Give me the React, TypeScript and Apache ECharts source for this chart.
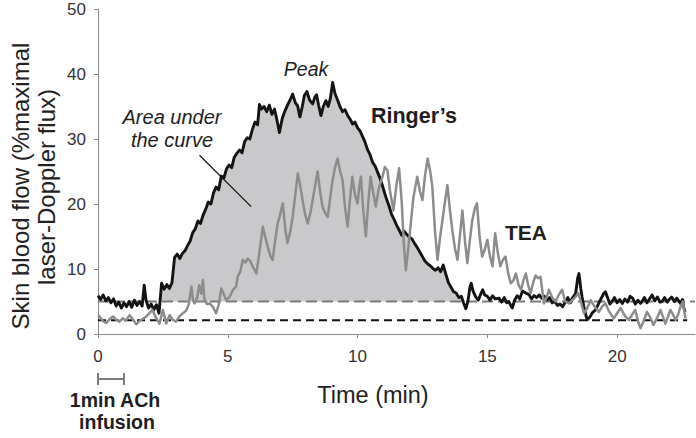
import { useEffect, useRef } from "react";
import * as echarts from "echarts";

const xTicks = [0, 5, 10, 15, 20];
const xMax = 23;
const yMax = 50;
const yInterval = 10;

// Ringer's (black) trace: [time (min), skin blood flow (%max)]
const ringer: [number, number][] = [
  [0, 5.9], [0.1, 5.3], [0.2, 6.0], [0.3, 5.1], [0.4, 5.6], [0.5, 4.8], [0.6, 5.4], [0.7, 4.3], [0.8, 4.9], [0.9, 4.0],
  [1.0, 4.8], [1.1, 4.2], [1.2, 5.0], [1.3, 4.1], [1.4, 5.2], [1.5, 4.4], [1.6, 5.0], [1.7, 4.3], [1.78, 7.5], [1.85, 5.2],
  [1.95, 4.0], [2.05, 4.6], [2.15, 3.7], [2.25, 4.5], [2.35, 3.2], [2.45, 7.8], [2.55, 6.9], [2.65, 7.6], [2.75, 7.0], [2.85, 7.9],
  [2.95, 11.8], [3.05, 12.3], [3.15, 11.6], [3.25, 12.4], [3.35, 12.8], [3.45, 13.6], [3.55, 14.3], [3.65, 15.6], [3.75, 16.2], [3.85, 17.4],
  [3.95, 17.0], [4.05, 18.3], [4.15, 19.2], [4.25, 20.3], [4.35, 20.0], [4.45, 21.7], [4.55, 22.6], [4.65, 22.2], [4.75, 24.3], [4.85, 24.0],
  [4.95, 25.4], [5.05, 26.0], [5.15, 25.6], [5.25, 27.2], [5.35, 27.8], [5.45, 28.3], [5.55, 27.9], [5.65, 29.6], [5.75, 30.2], [5.85, 30.0],
  [5.95, 31.5], [6.05, 32.6], [6.15, 32.2], [6.22, 35.3], [6.3, 34.6], [6.4, 35.0], [6.5, 34.2], [6.6, 35.2], [6.7, 33.8], [6.8, 34.6],
  [6.9, 32.8], [6.99, 31.0], [7.1, 33.2], [7.2, 34.3], [7.3, 35.2], [7.4, 36.0], [7.5, 36.9], [7.6, 35.6], [7.69, 35.1], [7.78, 33.4],
  [7.87, 35.0], [7.95, 36.7], [8.05, 37.3], [8.15, 36.0], [8.27, 35.4], [8.35, 36.4], [8.42, 36.8], [8.5, 35.2], [8.59, 33.6], [8.68, 35.0],
  [8.78, 35.9], [8.87, 35.0], [8.95, 36.2], [9.04, 38.7], [9.13, 37.0], [9.23, 36.0], [9.32, 35.0], [9.42, 34.2], [9.52, 34.5], [9.62, 33.6],
  [9.72, 33.0], [9.81, 32.3], [9.9, 32.6], [10.0, 31.7], [10.1, 31.2], [10.19, 30.4], [10.28, 29.6], [10.38, 28.4], [10.48, 27.6], [10.58, 26.4],
  [10.68, 25.8], [10.77, 24.9], [10.87, 23.9], [10.96, 22.8], [11.05, 21.6], [11.13, 20.6], [11.22, 19.6], [11.31, 18.4], [11.41, 17.6], [11.5, 16.8],
  [11.6, 16.0], [11.7, 15.2], [11.8, 15.8], [11.9, 15.3], [12.0, 14.9], [12.1, 14.6], [12.2, 13.9], [12.3, 13.3], [12.4, 12.6], [12.5, 11.9],
  [12.6, 11.2], [12.7, 10.8], [12.8, 10.5], [12.9, 10.1], [13.0, 9.8], [13.1, 10.2], [13.2, 9.6], [13.3, 10.6], [13.4, 9.2], [13.5, 7.9],
  [13.6, 7.2], [13.7, 6.5], [13.8, 6.3], [13.9, 5.6], [14.0, 5.8], [14.08, 4.8], [14.17, 3.9], [14.25, 5.0], [14.33, 7.2], [14.38, 7.8],
  [14.45, 6.6], [14.55, 5.7], [14.65, 5.2], [14.75, 6.2], [14.82, 6.8], [14.9, 6.0], [15.0, 5.8], [15.1, 5.2], [15.2, 5.9], [15.3, 5.4],
  [15.45, 5.5], [15.55, 4.9], [15.65, 5.6], [15.75, 4.8], [15.83, 5.0], [15.9, 4.4], [15.96, 4.0], [16.05, 5.2], [16.15, 5.9], [16.25, 5.4],
  [16.35, 6.6], [16.48, 6.3], [16.6, 6.1], [16.7, 5.4], [16.8, 5.9], [16.9, 5.6], [17.0, 6.0], [17.1, 5.5], [17.2, 5.8], [17.3, 5.2],
  [17.4, 5.6], [17.5, 4.8], [17.6, 5.0], [17.7, 4.4], [17.8, 4.6], [17.9, 4.2], [18.0, 4.9], [18.1, 5.6], [18.2, 4.8], [18.27, 5.5],
  [18.4, 6.2], [18.48, 8.6], [18.53, 9.3], [18.6, 7.0], [18.65, 5.7], [18.72, 4.2], [18.8, 2.8], [18.85, 2.2], [18.95, 2.6], [19.05, 3.3],
  [19.17, 3.7], [19.3, 4.8], [19.4, 5.6], [19.48, 6.2], [19.55, 6.5], [19.65, 5.4], [19.72, 4.6], [19.8, 5.0], [19.9, 5.6], [20.0, 4.8],
  [20.1, 5.3], [20.2, 4.7], [20.3, 5.4], [20.4, 4.9], [20.5, 5.8], [20.6, 5.5], [20.7, 4.6], [20.8, 5.2], [20.9, 4.7], [20.96, 5.0],
  [21.05, 5.6], [21.15, 4.8], [21.25, 5.4], [21.35, 6.0], [21.45, 5.1], [21.55, 5.7], [21.65, 4.9], [21.73, 5.0], [21.83, 5.6], [21.93, 4.9],
  [22.03, 5.4], [22.1, 5.7], [22.2, 5.0], [22.3, 5.5], [22.44, 4.7], [22.52, 5.3], [22.57, 4.0], [22.62, 3.4],
];

// TEA (grey) trace
const tea: [number, number][] = [
  [0, 2.9], [0.08, 2.6], [0.18, 2.0], [0.32, 1.7], [0.45, 2.3], [0.58, 2.7], [0.7, 2.2], [0.83, 1.9], [0.95, 2.4], [1.08, 2.1],
  [1.22, 2.9], [1.35, 2.2], [1.48, 1.5], [1.6, 2.0], [1.72, 2.3], [1.86, 2.7], [1.98, 3.2], [2.1, 3.7], [2.22, 2.6], [2.37, 1.6],
  [2.5, 3.7], [2.63, 1.6], [2.76, 2.9], [2.88, 2.2], [3.0, 1.9], [3.14, 2.7], [3.27, 3.2], [3.4, 3.6], [3.5, 4.6], [3.6, 7.3],
  [3.66, 5.2], [3.72, 4.7], [3.82, 5.6], [3.9, 7.5], [3.98, 6.2], [4.04, 8.3], [4.1, 5.4], [4.2, 4.6], [4.3, 4.7], [4.42, 4.2],
  [4.55, 3.2], [4.65, 4.5], [4.75, 7.0], [4.82, 6.4], [4.94, 5.2], [5.07, 5.7], [5.2, 6.8], [5.32, 7.3], [5.38, 8.8], [5.48, 9.6],
  [5.58, 11.4], [5.68, 11.0], [5.77, 11.6], [5.87, 11.2], [5.96, 10.4], [6.1, 9.3], [6.2, 12.0], [6.35, 16.5], [6.45, 14.8], [6.54, 13.4],
  [6.64, 12.0], [6.73, 11.4], [6.82, 14.2], [6.92, 17.0], [7.02, 18.4], [7.12, 20.1], [7.22, 16.0], [7.3, 14.0], [7.4, 15.6], [7.5, 18.0],
  [7.6, 21.4], [7.7, 24.7], [7.8, 22.6], [7.88, 20.6], [7.98, 18.4], [8.08, 17.0], [8.18, 18.6], [8.27, 20.6], [8.38, 23.2], [8.46, 25.0],
  [8.56, 21.8], [8.65, 19.6], [8.75, 18.6], [8.85, 18.0], [8.95, 21.0], [9.04, 23.7], [9.13, 25.6], [9.23, 27.0], [9.33, 25.0], [9.42, 23.7],
  [9.52, 19.4], [9.62, 16.5], [9.7, 20.4], [9.8, 24.2], [9.9, 21.4], [10.0, 20.1], [10.07, 22.8], [10.13, 24.2], [10.22, 19.0], [10.32, 15.0],
  [10.4, 19.6], [10.5, 24.2], [10.6, 21.8], [10.7, 19.6], [10.82, 22.4], [10.96, 24.2], [11.05, 25.7], [11.15, 25.2], [11.25, 22.0], [11.38, 19.0],
  [11.5, 23.0], [11.6, 25.5], [11.7, 20.4], [11.78, 14.0], [11.86, 9.8], [11.96, 13.4], [12.05, 17.0], [12.15, 21.0], [12.3, 24.2], [12.4, 22.0],
  [12.5, 20.6], [12.6, 24.4], [12.7, 27.0], [12.8, 25.0], [12.88, 22.7], [12.98, 16.0], [13.08, 11.4], [13.17, 14.6], [13.27, 17.5], [13.37, 20.4],
  [13.46, 22.9], [13.56, 19.0], [13.65, 16.0], [13.75, 13.2], [13.85, 11.4], [13.95, 15.4], [14.04, 19.0], [14.14, 14.2], [14.23, 10.9], [14.33, 14.6],
  [14.42, 17.5], [14.52, 19.4], [14.6, 20.1], [14.7, 15.0], [14.8, 11.9], [14.9, 13.0], [15.0, 14.5], [15.1, 12.0], [15.2, 10.4], [15.3, 15.5],
  [15.4, 12.6], [15.5, 10.4], [15.6, 11.4], [15.7, 11.9], [15.8, 9.4], [15.9, 7.8], [16.0, 8.2], [16.1, 9.3], [16.2, 7.6], [16.3, 6.8],
  [16.4, 8.4], [16.48, 9.3], [16.58, 7.4], [16.67, 6.3], [16.77, 8.0], [16.86, 9.0], [16.95, 8.6], [17.05, 8.8], [17.12, 6.6], [17.18, 4.7],
  [17.28, 5.6], [17.37, 6.8], [17.5, 5.6], [17.63, 5.0], [17.75, 6.0], [17.88, 6.8], [18.0, 5.0], [18.14, 4.7], [18.27, 5.2], [18.4, 5.7],
  [18.5, 6.3], [18.6, 5.0], [18.72, 3.2], [18.85, 4.0], [18.98, 5.2], [19.1, 4.4], [19.3, 3.4], [19.42, 4.2], [19.55, 4.7], [19.7, 3.4],
  [19.87, 2.4], [20.0, 3.2], [20.13, 4.0], [20.3, 2.8], [20.45, 2.15], [20.58, 3.0], [20.7, 3.7], [20.8, 2.0], [20.9, 0.9], [21.02, 2.0],
  [21.15, 3.4], [21.28, 2.5], [21.4, 1.4], [21.53, 2.4], [21.67, 3.7], [21.77, 2.6], [21.86, 1.6], [21.95, 2.6], [22.05, 3.7], [22.15, 3.0],
  [22.25, 2.15], [22.35, 3.0], [22.44, 4.2], [22.53, 5.0], [22.63, 2.4],
];

const ringerBaseline = 5;
const teaBaseline = 2.1;
const ringerBaselineEnd = 23;
const teaBaselineEnd = 22.7;
const aucStart = 2.35;
const aucEnd = 14.17;
const infusion: [number, number] = [0, 1];
const aucLeader: [number, number][] = [[3.91, 27.5], [5.9, 19.6]];

const FONT = "'Liberation Sans', Arial, Helvetica, sans-serif";

export default function App() {
  const ref = useRef<HTMLDivElement>(null);
  useEffect(() => {
    if (!ref.current) return;
    const chart = echarts.init(ref.current, null, { renderer: "svg", width: 696, height: 438 });
    const shade = ringer
      .filter(([t]) => t >= aucStart && t <= aucEnd)
      .map(([t, v]) => [t, Math.max(v, ringerBaseline)]);

    chart.setOption({
      animation: false,
      backgroundColor: "#ffffff",
      grid: { left: 98, right: 1, top: 9, bottom: 104 },
      xAxis: {
        type: "value",
        min: 0,
        max: xMax,
        interval: 5,
        splitLine: { show: false },
        axisLine: { lineStyle: { color: "#8a8a8a", width: 1 } },
        axisTick: { length: 4, lineStyle: { color: "#8a8a8a" }, customValues: xTicks },
        axisLabel: {
          customValues: xTicks,
          margin: 14,
          fontSize: 17,
          color: "#333",
          fontFamily: FONT,
        },
      },
      yAxis: {
        type: "value",
        min: 0,
        max: yMax,
        interval: yInterval,
        splitLine: { show: false },
        axisLine: { show: true, lineStyle: { color: "#8a8a8a", width: 1 } },
        axisTick: { show: true, length: 4, lineStyle: { color: "#8a8a8a" } },
        axisLabel: { margin: 12, fontSize: 17, color: "#333", fontFamily: FONT },
      },
      series: [
        {
          type: "line",
          data: shade,
          symbol: "none",
          lineStyle: { width: 0, opacity: 0 },
          areaStyle: { color: "#c9c9cb", opacity: 1, origin: ringerBaseline },
          z: 1,
        },
        {
          type: "line",
          data: [[0, ringerBaseline], [ringerBaselineEnd, ringerBaseline]],
          symbol: "none",
          lineStyle: { color: "#7b7b7b", width: 2, type: [11, 5] },
          z: 2,
        },
        {
          type: "line",
          data: [[0, teaBaseline], [teaBaselineEnd, teaBaseline]],
          symbol: "none",
          lineStyle: { color: "#111", width: 2, type: [8, 5] },
          z: 2,
        },
        {
          type: "line",
          data: ringer,
          symbol: "none",
          lineStyle: { color: "#141414", width: 2.9, join: "round" },
          z: 3,
        },
        {
          type: "line",
          data: tea,
          symbol: "none",
          lineStyle: { color: "#8c8c8c", width: 2.5, join: "round" },
          z: 4,
        },
        {
          type: "line",
          data: aucLeader,
          symbol: "none",
          lineStyle: { color: "#111", width: 1.2 },
          z: 5,
        },
      ],
    });

    const p0 = chart.convertToPixel({ gridIndex: 0 }, [infusion[0], 0]) as number[];
    const p1 = chart.convertToPixel({ gridIndex: 0 }, [infusion[1], 0]) as number[];
    const by = p0[1] + 45;
    const gray = "#7a7a7a";
    const txt = (
      text: string,
      x: number,
      y: number,
      size: number,
      extra: Record<string, unknown> = {},
      rotation = 0
    ) => ({
      type: "text",
      x,
      y,
      rotation,
      style: {
        text,
        fontSize: size,
        fontFamily: FONT,
        fill: "#1e1e1e",
        align: "center",
        verticalAlign: "middle",
        ...extra,
      },
      z: 10,
    });

    chart.setOption({
      graphic: [
        { type: "line", shape: { x1: p0[0], y1: by, x2: p1[0], y2: by }, style: { stroke: gray, lineWidth: 2 } },
        { type: "line", shape: { x1: p0[0], y1: by - 6, x2: p0[0], y2: by + 6 }, style: { stroke: gray, lineWidth: 2 } },
        { type: "line", shape: { x1: p1[0], y1: by - 6, x2: p1[0], y2: by + 6 }, style: { stroke: gray, lineWidth: 2 } },
        txt("1min ACh", 115, 400, 19.5, { fontWeight: "bold" }),
        txt("infusion", 117, 422, 19.5, { fontWeight: "bold" }),
        txt("Time (min)", 373, 395, 23.5, { fill: "#222" }),
        txt("Skin blood flow (%maximal", 20, 186, 24, { fill: "#222" }, Math.PI / 2),
        txt("laser-Doppler flux)", 46, 187, 24, { fill: "#222" }, Math.PI / 2),
        txt("Peak", 306, 69, 19.5, { fontStyle: "italic" }),
        txt("Area under", 172, 117, 20, { fontStyle: "italic" }),
        txt("the curve", 172, 140, 20, { fontStyle: "italic" }),
        txt("Ringer\u2019s", 414, 116, 21.5, { fontWeight: "bold" }),
        txt("TEA", 526, 232, 21, { fontWeight: "bold" }),
      ],
    });

    return () => chart.dispose();
  }, []);
  return (
    <div
      ref={ref}
      style={{ position: "absolute", left: 0, top: 0, width: 696, height: 438, background: "#fff" }}
    />
  );
}
